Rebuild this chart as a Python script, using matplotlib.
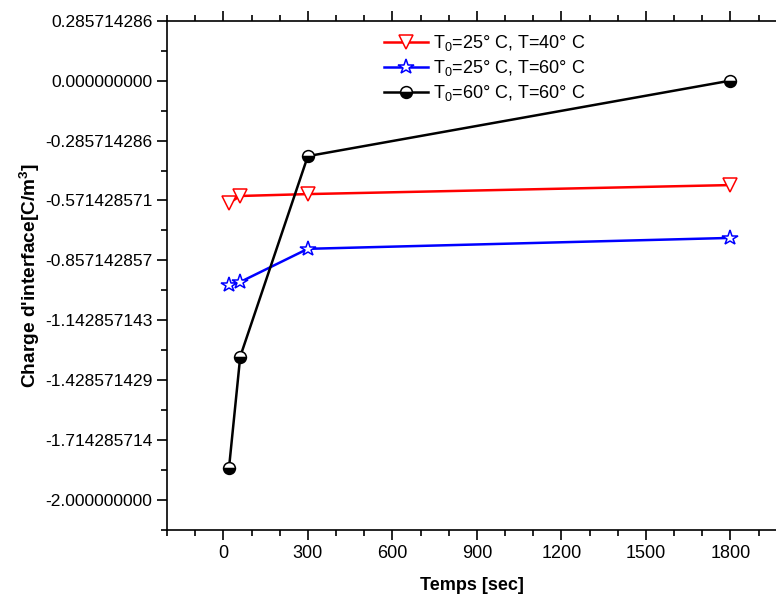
import matplotlib
matplotlib.use('Agg')
import matplotlib.pyplot as plt
import numpy as np

plt.rcParams['font.family'] = ['Liberation Sans', 'DejaVu Sans']
plt.rcParams['mathtext.fontset'] = 'custom'
plt.rcParams['mathtext.rm'] = 'Liberation Sans'
plt.rcParams['mathtext.it'] = 'Liberation Sans:italic'
plt.rcParams['mathtext.bf'] = 'Liberation Sans:bold'

# data
temps = [20, 60, 300, 1800]
q_25_40 = [-0.584, -0.550, -0.541, -0.498]
q_25_60 = [-0.974, -0.960, -0.802, -0.750]
q_60_60 = [-1.849, -1.316, -0.360, 0.0]
labels = ['T$_0$=25° C, T=40° C', 'T$_0$=25° C, T=60° C', 'T$_0$=60° C, T=60° C']
xticks = [0, 300, 600, 900, 1200, 1500, 1800]
yticks = np.arange(-7, 2) * 2.0 / 7

fig = plt.figure(figsize=(7.76, 5.99), dpi=100)
ax = fig.add_axes([0.2152, 0.1152, 0.7848, 0.8502])

ax.plot(temps, q_25_40, '-', color='red', lw=1.8, marker='v', ms=10,
        mfc='white', mec='red', mew=1.1, label=labels[0])
ax.plot(temps, q_25_60, '-', color='blue', lw=1.8, marker='*', ms=11.5,
        mfc='white', mec='blue', mew=1.1, label=labels[1])
ax.plot(temps, q_60_60, '-', color='black', lw=1.8, marker='o', ms=8.5,
        fillstyle='bottom', mfc='black', mfcalt='white', mec='black', mew=1.1,
        label=labels[2])

ax.set_xlim(-200, 1962)
ax.set_ylim(-2.139, 2.0 / 7)
ax.set_xticks(xticks)
ax.set_xticks(np.arange(-200, 2000, 100), minor=True)
ax.set_yticks(yticks)
ax.set_yticks(np.arange(-15, 2) * 1.0 / 7, minor=True)
ax.set_yticklabels(['%.9f' % v for v in yticks], fontsize=12.5)

ax.spines['right'].set_visible(False)
for s in ['left', 'bottom', 'top']:
    ax.spines[s].set_linewidth(1.2)
ax.tick_params(which='both', direction='out', top=True, right=False, width=1.2)
ax.tick_params(which='major', length=7)
ax.tick_params(axis='x', which='major', labelsize=13)
ax.tick_params(which='minor', length=4)
ax.tick_params(axis='x', which='both', labeltop=False)

ax.set_xlabel('Temps [sec]', fontsize=13, fontweight='bold', labelpad=11)
ax.set_ylabel("Charge d'interface[C/m$^\\mathbf{3}$]", fontsize=13.8,
              fontweight='bold', labelpad=2)

ax.legend(loc='upper left', bbox_to_anchor=(0.33, 1.008), frameon=False,
          fontsize=13, handlelength=2.4, handletextpad=0.3, labelspacing=0.28)

fig.savefig('out.png', dpi=100)
